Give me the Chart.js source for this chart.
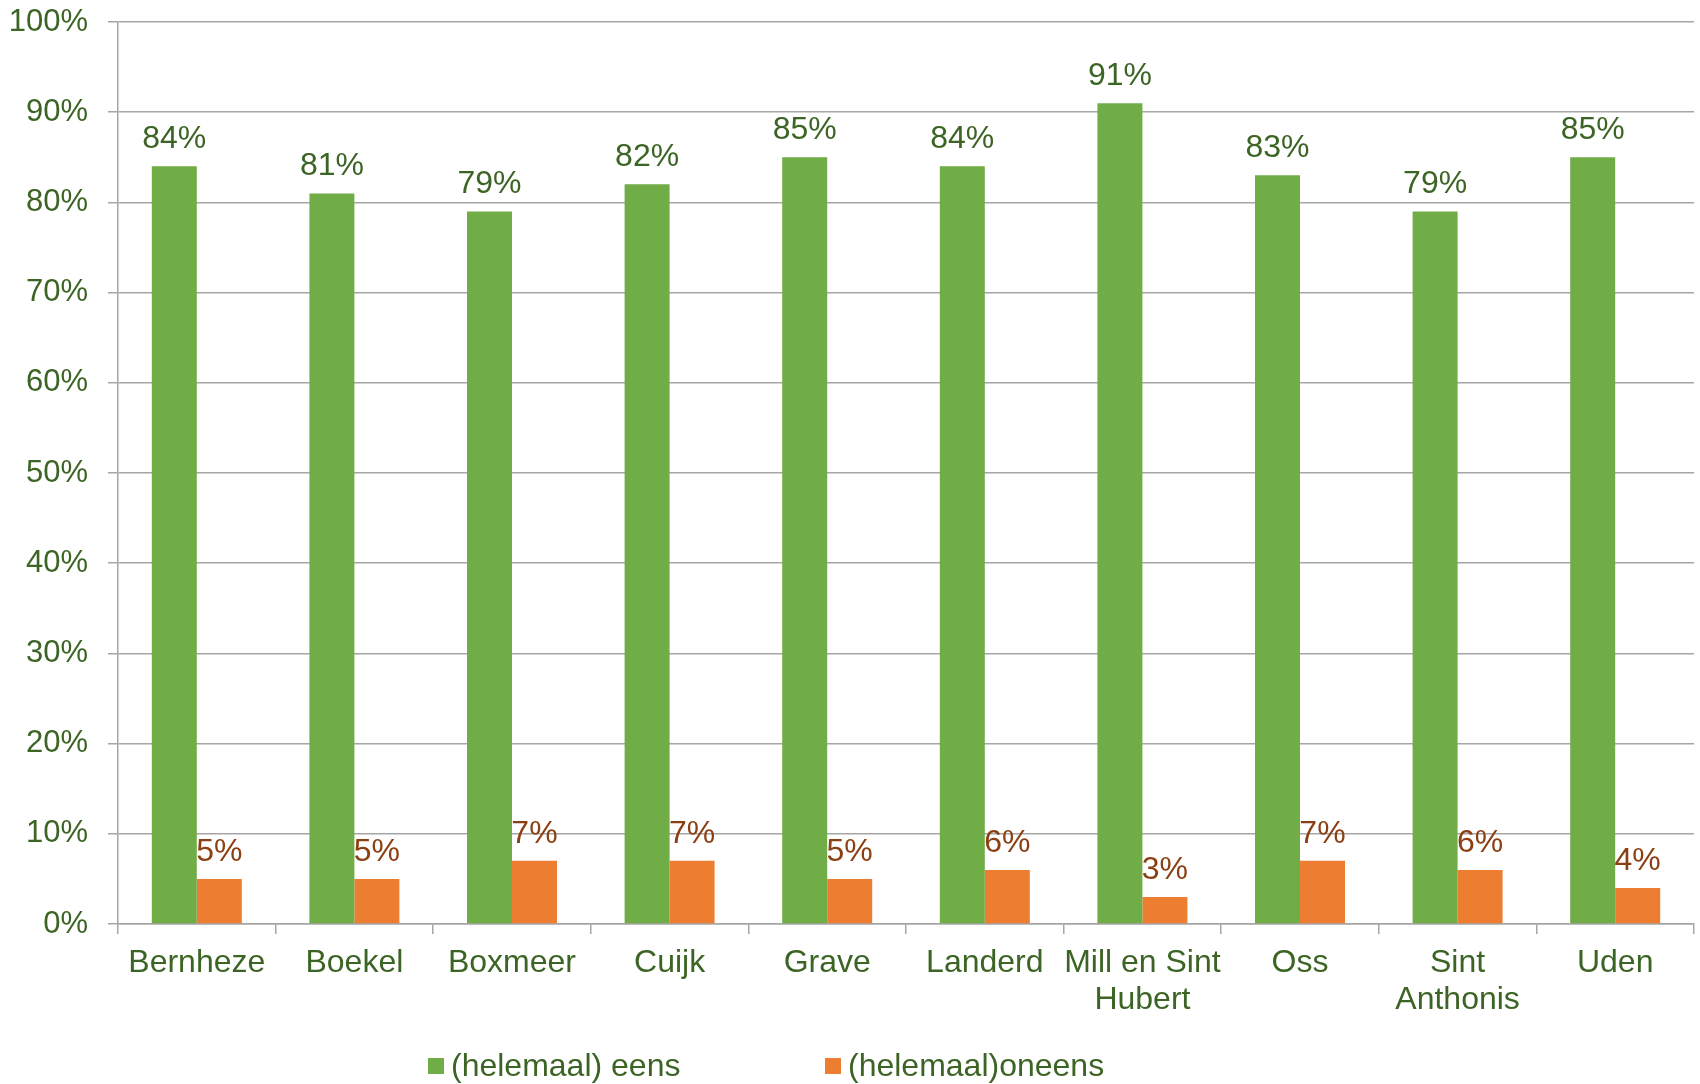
<!DOCTYPE html>
<html>
<head>
<meta charset="utf-8">
<style>
  html, body { margin: 0; padding: 0; background: #fff; }
  #wrap { width: 1700px; height: 1084px; position: relative; }
</style>
<script src="https://cdn.jsdelivr.net/npm/chart.js@4/dist/chart.umd.min.js"></script>
</head>
<body>
<div id="wrap"><canvas id="chart"></canvas></div>
<script>
// gemeenten en percentages
const gemeenten = ['Bernheze', 'Boekel', 'Boxmeer', 'Cuijk', 'Grave', 'Landerd',
  ['Mill en Sint', 'Hubert'], 'Oss', ['Sint', 'Anthonis'], 'Uden'];
const eens = [84, 81, 79, 82, 85, 84, 91, 83, 79, 85];
const oneens = [5, 5, 7, 7, 5, 6, 3, 7, 6, 4];
const reeksNamen = ['(helemaal) eens', '(helemaal)oneens'];

const GROEN = '#70AD47';
const ORANJE = '#ED7D31';
const TEKST = '#3C6424';
const TEKST_ORANJE = '#8B4013';
const LIJN = '#A6A6A6';
const FONT = '"Liberation Sans", Arial, sans-serif';

// percentage boven elke staaf
const waardeLabels = {
  id: 'waardeLabels',
  afterDatasetsDraw(chart) {
    const ctx = chart.ctx;
    ctx.save();
    ctx.font = '32px ' + FONT;
    ctx.textAlign = 'center';
    ctx.textBaseline = 'alphabetic';
    chart.data.datasets.forEach((ds, i) => {
      ctx.fillStyle = ds.labelColor;
      chart.getDatasetMeta(i).data.forEach((bar, j) => {
        ctx.fillText(ds.data[j] + '%', bar.x, bar.y - 18);
      });
    });
    ctx.restore();
  }
};

// eigen legenda onder de grafiek
const legenda = {
  id: 'legenda',
  afterDraw(chart) {
    const ctx = chart.ctx;
    const posX = [428, 825];
    const y = 1066;
    ctx.save();
    ctx.textBaseline = 'middle';
    ctx.font = '32px ' + FONT;
    chart.data.datasets.forEach((ds, i) => {
      const x = posX[i];
      ctx.fillStyle = ds.backgroundColor;
      ctx.fillRect(x, y - 8, 16, 16);
      ctx.fillStyle = TEKST;
      ctx.fillText(ds.label, x + 23, y + 1);
    });
    ctx.restore();
  }
};

new Chart(document.getElementById('chart'), {
  type: 'bar',
  data: {
    labels: gemeenten,
    datasets: [
      { label: reeksNamen[0], data: eens, backgroundColor: GROEN, labelColor: TEKST },
      { label: reeksNamen[1], data: oneens, backgroundColor: ORANJE, labelColor: TEKST_ORANJE }
    ]
  },
  options: {
    responsive: true,
    maintainAspectRatio: false,
    animation: false,
    layout: { padding: { top: 22, right: 6, left: 0, bottom: 0 } },
    datasets: {
      bar: { barPercentage: 1, categoryPercentage: 0.571, borderWidth: 0 }
    },
    scales: {
      x: {
        grid: { drawOnChartArea: false, offset: true, tickLength: 10, color: LIJN, lineWidth: 1.5 },
        border: { color: LIJN, width: 1.5 },
        ticks: {
          color: TEKST,
          font: { family: FONT, size: 32, lineHeight: 1.15 },
          padding: 11,
          maxRotation: 0,
          minRotation: 0,
          autoSkip: false
        },
        afterFit(scale) { scale.height = 160; }
      },
      y: {
        min: 0,
        max: 100,
        grid: { color: LIJN, lineWidth: 1.5, tickLength: 10 },
        border: { color: LIJN, width: 1.5 },
        ticks: {
          stepSize: 10,
          color: TEKST,
          font: { family: FONT, size: 31 },
          padding: 20,
          callback: v => v + '%'
        },
        afterFit(scale) {
          scale.width = 118;
          scale.paddingTop = 0;
          scale.paddingBottom = 0;
        }
      }
    },
    plugins: {
      legend: { display: false },
      tooltip: { enabled: false }
    }
  },
  plugins: [waardeLabels, legenda]
});
</script>
</body>
</html>
